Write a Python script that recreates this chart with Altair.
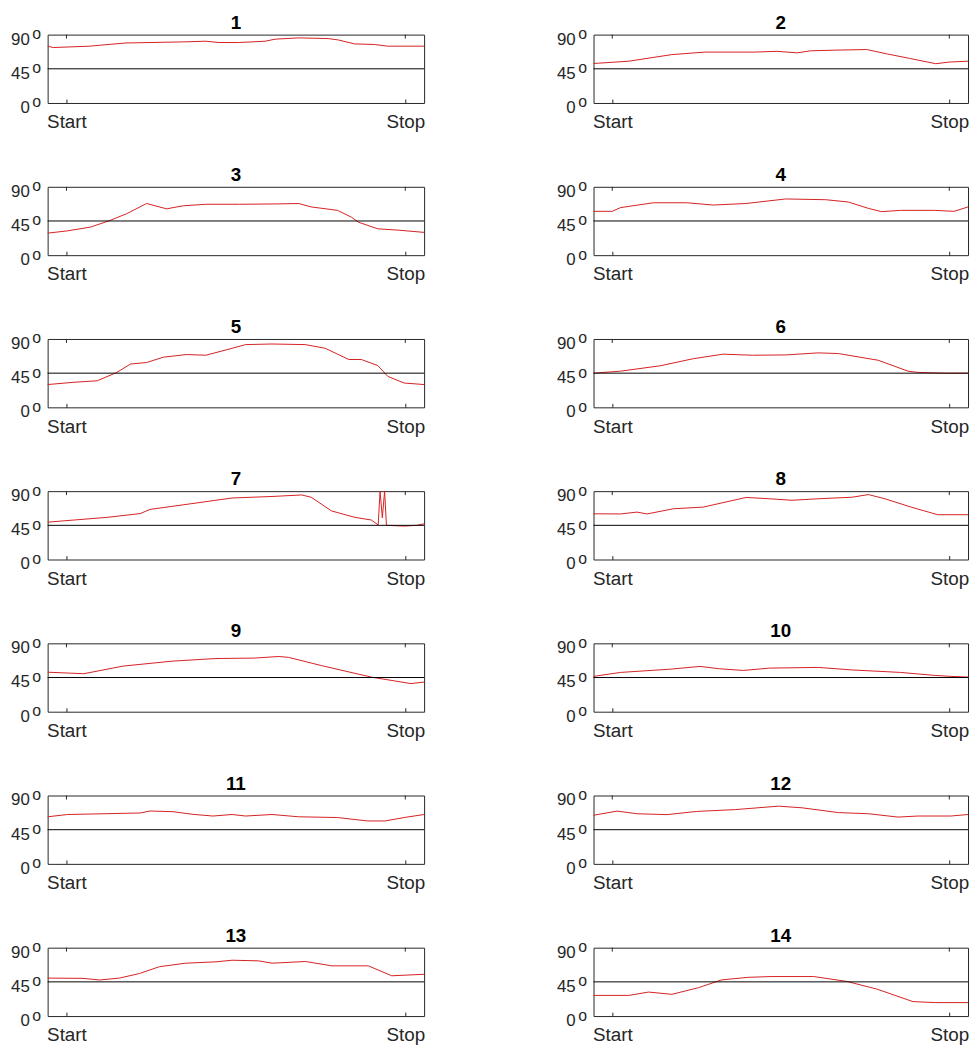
import altair as alt
import pandas as pd

TICK_POS = [5, 95]
TICK_TEXT = ["Start", "Stop"]
Y_TICKS = [0, 45, 90]
Y_TICK_TEXT = ["0", "45", "90"]
DEG_MARK = "o"
REF_ANGLE = 45

P1_X = [0, 1.5, 11.2, 13.8, 20.8, 35.8, 42, 45.5, 50.7, 57.8, 60.4, 66.6, 74.5, 77.2, 81.5, 86.8, 90.3, 100]
P1_Y = [74.8, 73, 74.8, 76, 79, 80.4, 81.3, 79.6, 79.6, 81.3, 84, 85.7, 84.8, 83, 77.8, 77, 74.8, 74.8]

P2_X = [0, 9.4, 20.9, 29.7, 42.9, 49, 54.4, 58, 65, 72.9, 78.2, 84.4, 91.4, 95, 100]
P2_Y = [52, 55, 63.7, 67, 67, 68, 66, 68.7, 69.6, 70.4, 64.8, 58.7, 51.7, 53.9, 55]

P3_X = [0, 5.3, 11.4, 16.2, 21, 26.3, 31.6, 36, 42, 51, 61.4, 66.7, 70, 77, 80.7, 82.5, 87.7, 93, 100]
P3_Y = [29, 32, 37, 45, 54.6, 68, 61, 65, 67, 67, 67.5, 68, 63.5, 59, 50, 43.5, 34.7, 33, 30]

P4_X = [0, 5, 7.2, 16, 24.9, 32, 40.7, 51.3, 62, 68, 73.4, 76.9, 82, 91, 96.3, 100]
P4_Y = [57.7, 57.7, 62.6, 69, 69, 66, 68, 74, 73, 70, 61.6, 57.3, 59, 59, 57.7, 63.5]

P5_X = [0, 7, 13.2, 18.4, 22, 26.3, 30.7, 36.8, 42, 47.4, 52.6, 59.6, 68.4, 73.7, 80, 83.3, 87.7, 90.4, 94.7, 100]
P5_Y = [30, 33, 35, 46, 57, 59, 66, 69.5, 68.6, 75.6, 82.6, 83.4, 82.6, 77.8, 63, 63, 55, 40.6, 32, 30]

P6_X = [0, 7.2, 17.8, 26.6, 34.6, 42.5, 51.3, 60, 65.4, 76, 84, 86.6, 93.6, 100]
P6_Y = [45, 47.6, 54.7, 64, 70, 68.6, 69, 71.7, 70.8, 62, 47.6, 46, 45, 45]

P7_X = [0, 7, 15.8, 24.6, 27.2, 36, 49, 59.6, 67.5, 70, 75.4, 81.6, 86, 87.8, 88.3, 88.9, 89.5, 90.0, 94.7, 98, 100]
P7_Y = [49.2, 52, 55.5, 60.5, 66, 72, 81, 83, 85, 82, 64, 55.5, 52, 45.5, 140, 55, 140, 45, 44, 45, 47]

P8_X = [0, 7.2, 11.6, 14.3, 21.3, 29.3, 40.7, 47, 53, 60, 69, 73.4, 77.8, 84.8, 91.9, 100]
P8_Y = [60.2, 60, 62.4, 60, 66.8, 69, 81.7, 80, 78, 80, 82, 85.5, 80, 69, 59, 59]

P9_X = [0, 9.6, 20, 33, 44.7, 55, 61.4, 64, 72.8, 86, 96.5, 100]
P9_Y = [52, 50, 60, 66.5, 70, 70.6, 72.7, 71.5, 60.6, 45.5, 37, 39]

P10_X = [0, 7.2, 20.5, 28.4, 33.7, 40, 47, 60, 68.9, 82, 91, 95.4, 100]
P10_Y = [46.5, 51.7, 56, 59.6, 56.5, 54.3, 57.4, 58.3, 55, 51.7, 47.8, 46.5, 45.6]

P11_X = [0, 5.3, 24.6, 27.2, 33.3, 38.6, 43.9, 49, 52.6, 59.6, 66.7, 77, 85, 89.6, 94.7, 100]
P11_Y = [62, 65, 67, 69.6, 68.7, 65.2, 63, 65, 63, 65, 62, 61, 56.5, 56.5, 61, 65]

P12_X = [0, 6.3, 11.6, 19.6, 27.5, 38, 49.4, 55.7, 65.4, 73.4, 81.3, 86.6, 95.4, 100]
P12_Y = [64, 69.5, 66, 64.8, 69, 71.5, 76, 73.8, 67.5, 66, 61.6, 63, 63, 65]

P13_X = [0, 9.4, 13.8, 19.1, 24.4, 29.7, 36.7, 44.7, 49, 56, 59.6, 68.5, 75.5, 85.2, 91.4, 100]
P13_Y = [50, 49.6, 47.5, 50, 56, 65, 69.6, 71.4, 73.5, 72.7, 69.6, 71.8, 66.1, 66.1, 53, 55]

P14_X = [0, 9.4, 14.7, 20.9, 28, 34.2, 41.3, 47.4, 58.8, 67.6, 75.6, 85.3, 91.4, 100]
P14_Y = [27.2, 27.2, 31.6, 28.6, 37.3, 47.6, 51, 52, 52, 45.6, 35.6, 19, 17.7, 17.7]

PANELS = [
    ("1", P1_X, P1_Y), ("2", P2_X, P2_Y), ("3", P3_X, P3_Y), ("4", P4_X, P4_Y),
    ("5", P5_X, P5_Y), ("6", P6_X, P6_Y), ("7", P7_X, P7_Y), ("8", P8_X, P8_Y),
    ("9", P9_X, P9_Y), ("10", P10_X, P10_Y), ("11", P11_X, P11_Y), ("12", P12_X, P12_Y),
    ("13", P13_X, P13_Y), ("14", P14_X, P14_Y),
]

FONT = "Liberation Sans"
DARK = "#262626"
H = 69
xscale = alt.Scale(domain=[0, 100], nice=False, zero=False)
yscale = alt.Scale(domain=[0, 90], nice=False, zero=True, clamp=True)
label_expr = f"datum.value == {TICK_POS[0]} ? '{TICK_TEXT[0]}' : '{TICK_TEXT[1]}'"
ylab_df = pd.DataFrame({"v": Y_TICKS, "txt": Y_TICK_TEXT, "deg": [DEG_MARK] * len(Y_TICKS)})
tick_df = pd.DataFrame({"t": TICK_POS})

x_axis = alt.Axis(orient="bottom", values=TICK_POS, labelExpr=label_expr, domain=False,
                  grid=False, tickSize=4, offset=-4, labelPadding=10, labelFontSize=19,
                  tickColor=DARK, labelColor=DARK, labelFont=FONT)


def panel(name, xs, ys, width):
    df = pd.DataFrame({"t": xs, "angle": ys})
    x_enc = alt.X("t:Q", scale=xscale, title=None, axis=x_axis)
    y_enc = alt.Y("angle:Q", scale=yscale, axis=None)
    line = alt.Chart(df).mark_line(color="#d42020", strokeWidth=1).encode(x=x_enc, y=y_enc)
    ref = alt.Chart(pd.DataFrame({"ref": [REF_ANGLE]})).mark_rule(color="black", strokeWidth=1).encode(
        y=alt.Y("ref:Q", scale=yscale, axis=None))
    top_ticks = alt.Chart(tick_df).mark_rule(color=DARK, strokeWidth=1).encode(
        x=x_enc, y=alt.value(0), y2=alt.value(4))
    ynum = alt.Chart(ylab_df).mark_text(align="right", baseline="alphabetic", fontSize=17, font=FONT,
                                        color=DARK, dy=10).encode(
        x=alt.value(-18), y=alt.Y("v:Q", scale=yscale, axis=None), text="txt:N")
    ydeg = alt.Chart(ylab_df).mark_text(align="left", baseline="alphabetic", fontSize=16, font=FONT,
                                        color=DARK, dy=4.5).encode(
        x=alt.value(-15.5), y=alt.Y("v:Q", scale=yscale, axis=None), text="deg:N")
    title = alt.Chart(pd.DataFrame({"name": [name]})).mark_text(
        align="center", baseline="alphabetic", fontSize=19, fontWeight="bold", font=FONT, color="black"
    ).encode(x=alt.value(width / 2), y=alt.value(-6), text="name:N")
    return alt.layer(line, ref, top_ticks, ynum, ydeg, title).properties(width=width, height=H)


rows = []
for i in range(0, len(PANELS), 2):
    rows.append(alt.hconcat(panel(*PANELS[i], 380), panel(*PANELS[i + 1], 378), spacing=130))

chart = alt.vconcat(*rows, spacing=32.6).properties(
    padding={"left": 2, "top": 0, "right": 0, "bottom": 0}, background="white"
).configure_view(stroke=DARK, strokeWidth=1)

chart.save("out.html", embed_options={"renderer": "svg", "actions": False})
